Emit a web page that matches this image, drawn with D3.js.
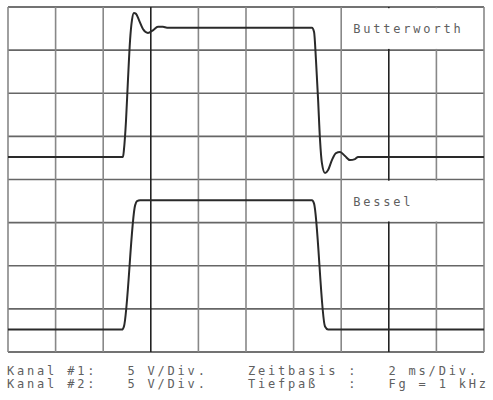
<!DOCTYPE html>
<html>
<head>
<meta charset="utf-8">
<script src="https://cdn.jsdelivr.net/npm/d3@7"></script>
<style>
  html, body { margin: 0; padding: 0; background: #fff; }
  svg { display: block; }
  .lbl { font-family: "DejaVu Sans Mono", monospace; font-size: 12px; fill: #606060; letter-spacing: 2.8px; }
</style>
</head>
<body>
<svg id="chart" width="493" height="400"></svg>
<script>
// ---- data ----
// time in ms (2 ms/div, 10 divisions), voltage in V (5 V/div)
const timeDivs = d3.range(0, 11);            // vertical grid divisions
const voltDivs = d3.range(0, 9);             // horizontal grid divisions
const darkTimeDivs = [3, 8];

const butterT = [0, 4.83, 4.87, 4.96, 5.04, 5.13, 5.21, 5.29, 5.38, 5.50, 5.67, 5.88, 6.09, 6.30, 6.51, 6.68,
                 12.77, 12.86, 12.94, 13.03, 13.11, 13.19, 13.32, 13.45, 13.61, 13.78, 13.95, 14.16, 14.37, 14.58, 14.71, 20];
const butterV = [0, 0, 0.8, 4.3, 8.9, 13.6, 15.9, 16.7, 16.6, 15.9, 14.85, 14.4, 14.7, 15.1, 15.1, 15.0,
                 15.0, 14.5, 11.25, 6.6, 2.0, -0.7, -1.86, -1.5, -0.35, 0.46, 0.58, 0.12, -0.35, -0.23, 0, 0];

const besselT = [0, 4.79, 4.87, 5.34, 5.42, 5.55, 12.77, 12.86, 13.32, 13.45, 20];
const besselV = [0, 0, 0.35, 14.4, 14.9, 15, 15, 14.6, 0.35, 0, 0];

const channels = [
  { name: "Butterworth", t: butterT, v: butterV, zeroDiv: 4.52, labelTop: 8 },
  { name: "Bessel",      t: besselT, v: besselV, zeroDiv: 0.52, labelTop: 4 }
];

const footerRows = [
  [["Kanal #1:", 0], ["5 V/Div.", 12], ["Zeitbasis", 24], [":", 34], ["2 ms/Div.", 38]],
  [["Kanal #2:", 0], ["5 V/Div.", 12], ["Tiefpaß", 24], [":", 34], ["Fg = 1 kHz", 38]]
];

const voltsPerDiv = 5;

// ---- layout ----
const svg = d3.select("#chart");
const x0 = 8, x1 = 484, y0 = 7, y1 = 352;
const xDiv = d3.scaleLinear().domain([0, 10]).range([x0, x1]);
const yDiv = d3.scaleLinear().domain([0, 8]).range([y1, y0]);
const xTime = d3.scaleLinear().domain([0, 20]).range([x0, x1]);

// grid
const g = svg.append("g");
g.selectAll("line.h").data(voltDivs).join("line")
  .attr("x1", x0).attr("x2", x1)
  .attr("y1", d => yDiv(d)).attr("y2", d => yDiv(d))
  .attr("stroke", d => (d === 0 || d === 8) ? "#444" : "#666")
  .attr("stroke-width", 1.6);
g.selectAll("line.v").data(timeDivs).join("line")
  .attr("y1", y0).attr("y2", y1)
  .attr("x1", d => xDiv(d)).attr("x2", d => xDiv(d))
  .attr("stroke", d => darkTimeDivs.includes(d) ? "#222" : "#888")
  .attr("stroke-width", 1.6);

// label boxes
channels.forEach(ch => {
  const top = yDiv(ch.labelTop), bot = yDiv(ch.labelTop - 1);
  svg.append("rect")
    .attr("x", xDiv(7) + 1.2).attr("y", top + 1.2)
    .attr("width", xDiv(10) - xDiv(7) - 2.4)
    .attr("height", bot - top - 2.4)
    .attr("fill", "#fff");
  svg.append("text").attr("class", "lbl")
    .attr("x", xDiv(7) + 12).attr("y", top + 26)
    .text(ch.name);
});

// traces
channels.forEach(ch => {
  const yV = d3.scaleLinear()
    .domain([-ch.zeroDiv * voltsPerDiv, (8 - ch.zeroDiv) * voltsPerDiv])
    .range([y1, y0]);
  const pts = ch.t.map((t, i) => [t, ch.v[i]]);
  const line = d3.line().x(d => xTime(d[0])).y(d => yV(d[1])).curve(d3.curveMonotoneX);
  svg.append("path").datum(pts)
    .attr("d", line)
    .attr("fill", "none")
    .attr("stroke", "#2a2a2a")
    .attr("stroke-width", 2)
    .attr("stroke-linejoin", "round");
});

// footer
const colW = 10.04;
footerRows.forEach((row, r) => {
  row.forEach(([txt, col]) => {
    svg.append("text").attr("class", "lbl")
      .attr("x", 7 + col * colW)
      .attr("y", 375 + r * 13)
      .text(txt);
  });
});
</script>
</body>
</html>
